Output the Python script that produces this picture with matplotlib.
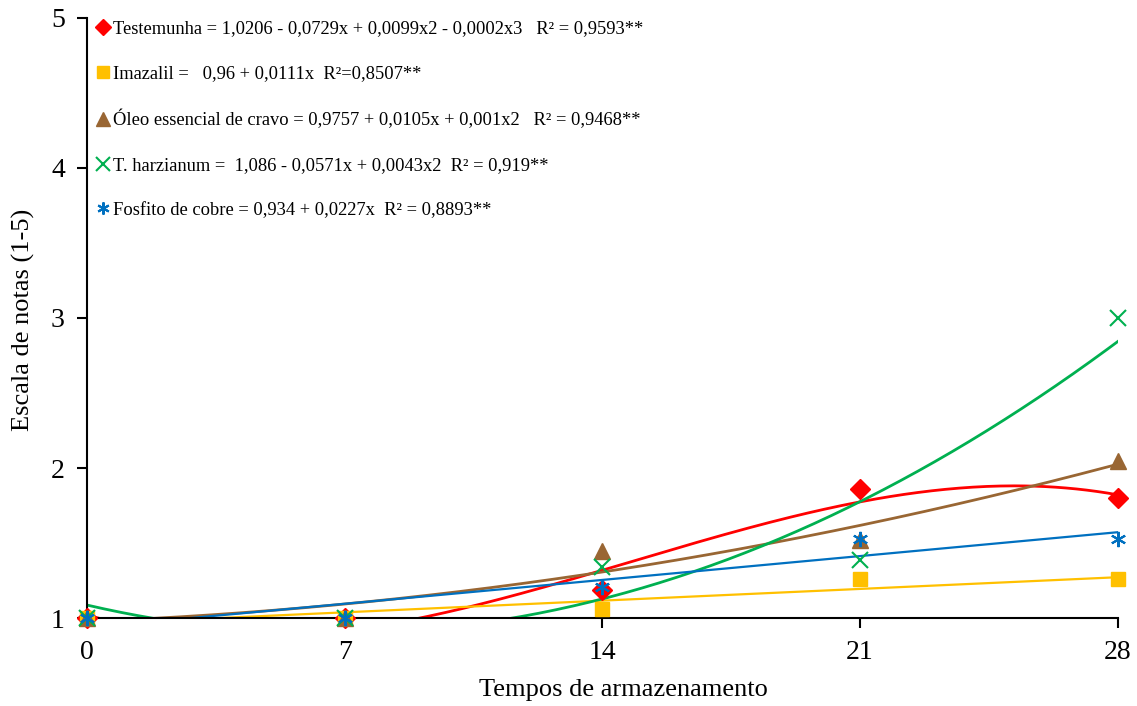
import numpy as np
import matplotlib
matplotlib.use('Agg')
import matplotlib.pyplot as plt
from matplotlib.lines import Line2D

plt.rcParams['font.family'] = ['Liberation Serif', 'DejaVu Serif']

# dias de armazenamento e notas medias por tratamento
dias = [0, 7, 14, 21, 28]
testemunha = [1.0, 1.0, 1.19, 1.86, 1.80]
imazalil = [1.0, 1.0, 1.06, 1.26, 1.26]
cravo = [1.0, 1.0, 1.45, 1.52, 2.05]
harzianum = [1.0, 1.0, 1.34, 1.39, 3.0]
fosfito = [1.0, 1.0, 1.21, 1.53, 1.53]

rotulos = [
    'Testemunha = 1,0206 - 0,0729x + 0,0099x2 - 0,0002x3   R² = 0,9593**',
    'Imazalil =   0,96 + 0,0111x  R²=0,8507**',
    'Óleo essencial de cravo = 0,9757 + 0,0105x + 0,001x2   R² = 0,9468**',
    'T. harzianum =  1,086 - 0,0571x + 0,0043x2  R² = 0,919**',
    'Fosfito de cobre = 0,934 + 0,0227x  R² = 0,8893**',
]

series = [testemunha, imazalil, cravo, harzianum, fosfito]
graus = [3, 1, 2, 2, 1]
cores = ['#FF0000', '#FFC000', '#996633', '#00B050', '#0070C0']
marcadores = ['D', 's', '^', 'x', (6, 2, 0)]
tamanhos = [10.5, 10, 12, 12, 11]

fig = plt.figure(figsize=(11.37, 7.06), dpi=100)
ax = fig.add_axes([0.0765, 0.1246, 0.9065, 0.85])

xs = np.linspace(0, 28, 300)
handles = []
for y, g, c, m, s, r in zip(series, graus, cores, marcadores, tamanhos, rotulos):
    coef = np.polyfit(dias, y, g)
    lw = 1.6 if g == 1 else 2.0
    ax.plot(xs, np.polyval(coef, xs), color=c, lw=lw, zorder=2)
    mew = 1.5 if m in ('x', (6, 2, 0)) else 1
    ax.plot(dias, y, linestyle='none', marker=m, color=c, markersize=s,
            markeredgewidth=mew, zorder=3, clip_on=False)
    handles.append(Line2D([], [], linestyle='none', marker=m, color=c,
                          markersize=s * 0.8, markeredgewidth=mew, label=r))

ax.set_xlim(0, 28)
ax.set_ylim(1, 5)
ax.set_xticks(dias)
ax.set_yticks([1, 2, 3, 4, 5])
for lado in ['top', 'right']:
    ax.spines[lado].set_visible(False)
for lado in ['left', 'bottom']:
    ax.spines[lado].set_linewidth(1.5)
ax.tick_params(direction='out', length=7, width=1.5, labelsize=20)
ax.tick_params(axis='y', pad=9)
ax.tick_params(axis='x', pad=9)
ax.set_xlabel('Tempos de armazenamento', fontsize=19)
ax.set_ylabel('Escala de notas (1-5)', fontsize=19)
ax.xaxis.set_label_coords(0.52, -0.102)
ax.yaxis.set_label_coords(-0.05, 0.497)

ax.legend(handles=handles, loc='upper left', bbox_to_anchor=(0.002, 1.008),
          frameon=False, fontsize=13.3, handlelength=0.7, handletextpad=0.2,
          labelspacing=1.5, borderaxespad=0)

fig.savefig('out.png', dpi=100)
plt.close()
